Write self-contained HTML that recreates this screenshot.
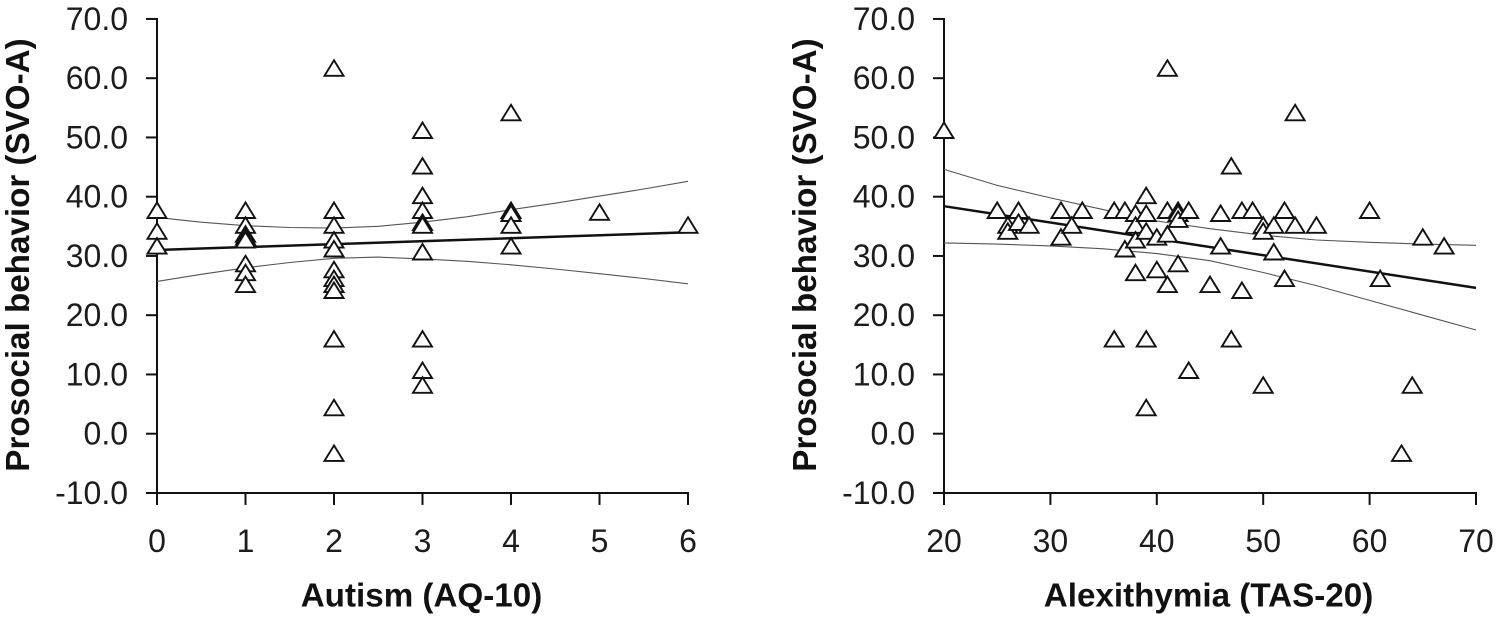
<!DOCTYPE html>
<html>
<head>
<meta charset="utf-8">
<title>Prosocial behavior vs Autism and Alexithymia</title>
<style>
html,body{margin:0;padding:0;background:#fff;width:1499px;height:620px;overflow:hidden}
svg{display:block;filter:blur(0.35px)}
text{font-family:"Liberation Sans",Arial,sans-serif;fill:#1c1c1c}
.tick{font-size:32px}
.title{font-size:33.2px;font-weight:bold;fill:#111}
</style>
</head>
<body>
<svg id="chart" xmlns="http://www.w3.org/2000/svg" width="1499" height="620" viewBox="0 0 1499 620"></svg>
<script>
// Shared y axis
const yTicks = [-10, 0, 10, 20, 30, 40, 50, 60, 70];
const yTitle = "Prosocial behavior (SVO-A)";

// Left panel: Autism (AQ-10)
const autismTicks = [0, 1, 2, 3, 4, 5, 6];
const autismTitle = "Autism (AQ-10)";
const autismX = [0,0,0, 1,1,1,1,1,1,1,1, 2,2,2,2,2,2,2,2,2,2,2,2, 3,3,3,3,3,3,3,3,3,3, 4,4,4,4,4, 5, 6];
const autismY = [37.5,34,31.5, 37.5,35,33.5,33,32.5,28.5,27,25, 61.5,37.5,35,32.5,31,27.5,26,25,24,15.8,4.2,-3.5, 51,45,40,37.5,35.5,35,30.5,15.8,10.5,8, 54,37.5,37,35,31.5, 37.2, 35];
const autismFitX = [0, 6];
const autismFitY = [31, 34];
const autismCiX = [0, 0.5, 1, 1.5, 2, 2.5, 3, 3.5, 4, 4.5, 5, 5.5, 6];
const autismCiUpper = [36.5, 35.7, 35.1, 34.8, 34.7, 35, 35.7, 36.6, 37.8, 38.9, 40.1, 41.3, 42.6];
const autismCiLower = [25.7, 26.9, 28, 28.9, 29.6, 29.8, 29.5, 29.1, 28.5, 27.8, 27, 26.2, 25.3];

// Right panel: Alexithymia (TAS-20)
const alexTicks = [20, 30, 40, 50, 60, 70];
const alexTitle = "Alexithymia (TAS-20)";
const alexX = [20,25,26,26,27,27,28,31,31,32,33,36,36,37,37,38,38,38,38,39,39,39,39,39,40,40,41,41,41,41,42,42,42,42,43,43,45,46,46,47,47,48,48,49,50,50,50,51,51,52,52,53,53,55,60,61,63,64,65,67];
const alexY = [51,37.5,35,34,37.5,35.5,35,37.5,33,35,37.5,37.5,15.8,37.5,31,37,35,32.5,27,40,37,34,15.8,4.2,33,27.5,61.5,37.5,33.5,25,37.5,37,36,28.5,37.5,10.5,25,37,31.5,45,15.8,37.5,24,37.5,35,34,8,35,30.5,37.5,26,54,35,35,37.5,26,-3.5,8,33,31.5];
const alexFitX = [20, 70];
const alexFitY = [38.4, 24.6];
const alexCiX = [20, 25, 30, 35, 40, 45, 50, 55, 60, 65, 70];
const alexCiUpper = [44.6, 41.9, 39.8, 37.8, 35.9, 34.6, 33.5, 32.7, 32.3, 32, 31.8];
const alexCiLower = [32.2, 32, 31.7, 31.2, 30.4, 29.2, 27.2, 25, 22.5, 20, 17.5];

const svg = document.getElementById('chart');
const NS = 'http://www.w3.org/2000/svg';
const yScale = v => 433.7 - v * 5.925;

function make(tag, attrs, parent) {
  const el = document.createElementNS(NS, tag);
  for (const k in attrs) el.setAttribute(k, attrs[k]);
  parent.appendChild(el);
  return el;
}

function drawPanel(name, cfg) {
  const g = make('g', {}, svg);
  
  
  const x0 = cfg.x0, x1 = cfg.x1;
  const min = cfg.ticks[0], max = cfg.ticks[cfg.ticks.length - 1];
  const xScale = v => x0 + (v - min) * (x1 - x0) / (max - min);

  // axes
  const yAxis = make('line', {x1: x0, x2: x0, y1: yScale(70) - 1, y2: yScale(-10) + 12, stroke: '#111', 'stroke-width': 2}, g);
  
  
  const xAxis = make('line', {x1: x0 - 11, x2: x1 + 1, y1: yScale(-10), y2: yScale(-10), stroke: '#111', 'stroke-width': 2}, g);
  
  

  yTicks.forEach(v => {
    const tick = make('line', {x1: x0 - 11, x2: x0, y1: yScale(v), y2: yScale(v), stroke: '#111', 'stroke-width': 2}, g);
    
    
    const label = make('text', {x: x0 - 29, y: yScale(v) + 11, 'text-anchor': 'end', class: 'tick'}, g);
    label.textContent = v.toFixed(1);
    
    
  });
  cfg.ticks.forEach(v => {
    const tick = make('line', {x1: xScale(v), x2: xScale(v), y1: yScale(-10), y2: yScale(-10) + 12, stroke: '#111', 'stroke-width': 2}, g);
    
    
    const label = make('text', {x: xScale(v), y: 552, 'text-anchor': 'middle', class: 'tick'}, g);
    label.textContent = String(v);
    
    
  });

  // titles
  const xt = make('text', {x: cfg.titleX, y: 606.5, 'text-anchor': 'middle', class: 'title'}, g);
  xt.textContent = cfg.title;
  
  
  const yt = make('text', {x: 0, y: 0, 'text-anchor': 'middle', class: 'title', transform: 'translate(' + cfg.yTitleX + ',255) rotate(-90)'}, g);
  yt.textContent = yTitle;
  
  

  // confidence bands and fit
  const poly = (xs, ys) => xs.map((x, i) => xScale(x).toFixed(1) + ',' + yScale(ys[i]).toFixed(1)).join(' ');
  const upper = make('polyline', {points: poly(cfg.ciX, cfg.ciUpper), fill: 'none', stroke: '#555', 'stroke-width': 1.1}, g);
  
  
  const lower = make('polyline', {points: poly(cfg.ciX, cfg.ciLower), fill: 'none', stroke: '#555', 'stroke-width': 1.1}, g);
  
  
  const fit = make('polyline', {points: poly(cfg.fitX, cfg.fitY), fill: 'none', stroke: '#111', 'stroke-width': 2.5}, g);
  
  

  // points
  cfg.xs.forEach((x, i) => {
    const cx = xScale(x), cy = yScale(cfg.ys[i]);
    const pts = [[cx, cy - 9], [cx + 9.5, cy + 6.5], [cx - 9.5, cy + 6.5]].map(p => p[0].toFixed(1) + ',' + p[1].toFixed(1)).join(' ');
    const tri = make('polygon', {points: pts, fill: '#fff', stroke: '#111', 'stroke-width': 1.9, 'stroke-linejoin': 'miter'}, g);
    
    
  });
}

drawPanel('autism', {x0: 157, x1: 688, ticks: autismTicks, title: autismTitle, titleX: 421.5, yTitleX: 29,
  xs: autismX, ys: autismY, fitX: autismFitX, fitY: autismFitY, ciX: autismCiX, ciUpper: autismCiUpper, ciLower: autismCiLower});
drawPanel('alexithymia', {x0: 944, x1: 1476, ticks: alexTicks, title: alexTitle, titleX: 1208.5, yTitleX: 816,
  xs: alexX, ys: alexY, fitX: alexFitX, fitY: alexFitY, ciX: alexCiX, ciUpper: alexCiUpper, ciLower: alexCiLower});
</script>
</body>
</html>
